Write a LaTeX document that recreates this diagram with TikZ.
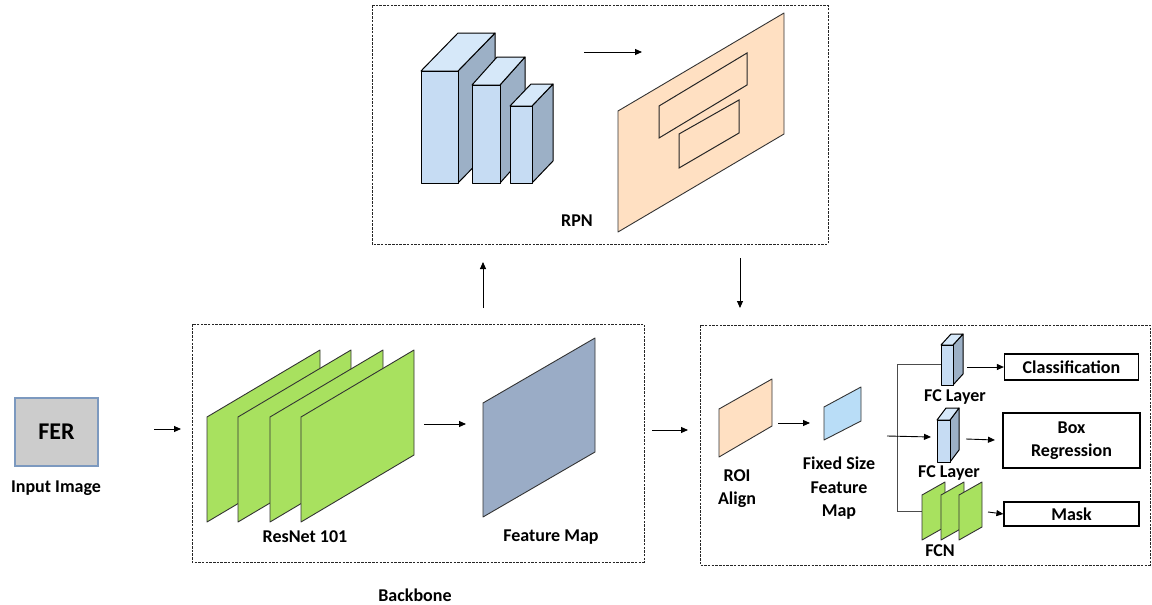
\documentclass[tikz,border=0pt]{standalone}
\usepackage{fontspec}
\setmainfont{Carlito}
\usetikzlibrary{arrows.meta}
\definecolor{cubefront}{HTML}{C6DCF3}
\definecolor{cubeside}{HTML}{9CB0C6}
\definecolor{cubetop}{HTML}{D6E8F9}
\definecolor{peach}{HTML}{FFE0C2}
\definecolor{leaf}{HTML}{A8E15F}
\definecolor{fmap}{HTML}{9AACC6}
\definecolor{fergray}{HTML}{CCCCCC}
\definecolor{ferborder}{HTML}{7C99BF}
\definecolor{skyblue}{HTML}{B9DDF7}
\tikzset{
  dbox/.style={draw=black!85, dash pattern=on 2.5pt off 1.2pt, line width=1pt},
  arr/.style={-{Triangle[length=7pt,width=6pt]}, line width=0.9pt},
  lbl/.style={font=\bfseries\fontsize{18}{23.5}\selectfont, align=center, inner sep=0pt},
  outbox/.style={draw, line width=1.2pt, fill=white, inner sep=0pt,
    font=\bfseries\fontsize{18}{23.5}\selectfont, align=center},
  shape line/.style={draw=black, line width=1pt, line join=round}
}
% cube: x1 x2 ytop ybot dx dy
\newcommand\mycube[6]{%
  \filldraw[fill=cubeside, shape line] (#2,#3) -- ({#2+(#5)},{#3+(#6)}) -- ({#2+(#5)},{#4+(#6)}) -- (#2,#4) -- cycle;
  \filldraw[fill=cubetop, shape line] (#1,#3) -- ({#1+(#5)},{#3+(#6)}) -- ({#2+(#5)},{#3+(#6)}) -- (#2,#3) -- cycle;
  \filldraw[fill=cubefront, shape line] (#1,#3) rectangle (#2,#4);
}
% parallelogram: xl xr yltop ylbot yrtop yrbot color
\newcommand\mypara[7]{%
  \filldraw[fill=#7, draw=black!80, line width=0.9pt, line join=round] (#1,#3) -- (#2,#5) -- (#2,#6) -- (#1,#4) -- cycle;
}
\begin{document}
\begin{tikzpicture}[x=1pt,y=-1pt]
\useasboundingbox (0,0) rectangle (1152,605);

% ---------- RPN box ----------
\draw[dbox] (372,5) rectangle (828,244);
\mycube{421}{458}{71}{183}{37}{-38}
\mycube{472}{500}{85}{183}{25}{-28}
\mycube{510}{532}{106}{183}{21}{-22}
\coordinate (rpnA) at (584,52);
\coordinate (rpnB) at (642,52);
\draw[arr] (rpnA) -- (rpnB);
\mypara{618}{784}{111}{232}{13}{134}{peach}
\draw[line width=1pt, draw=black!85] (659,106) -- (747,53) -- (747,85) -- (659,138) -- cycle;
\draw[line width=1pt, draw=black!85] (679,134) -- (739,100) -- (739,133) -- (679,168) -- cycle;
\node[lbl] (rpn) at (577,221) {RPN};

% ---------- Input ----------
\node[draw=ferborder, fill=fergray, line width=1.2pt, minimum width=83pt, minimum height=68pt, inner sep=0pt,
  font=\bfseries\fontsize{24}{28}\selectfont] (fer) at (56.5,432) {FER};
\node[lbl] (inlbl) at (56,488) {Input Image};

% ---------- Backbone ----------
\draw[dbox] (192,324) rectangle (644,562);
\foreach \x in {207,238,270,301}{
  \mypara{\x}{\x+113}{417}{522}{350}{455}{leaf}
}
\mypara{483}{595}{403}{517}{338}{452}{fmap}
\node[lbl] (resnet) at (305,537) {ResNet 101};
\node[lbl] (fmlbl) at (551,537) {Feature Map};
\node[lbl] (backbone) at (415,595) {Backbone};

\coordinate (inA) at (154,429);
\coordinate (inB) at (181,429);
\draw[arr] (inA) -- (inB);
\coordinate (rnA) at (424,424);
\coordinate (rnB) at (466,424);
\draw[arr] (rnA) -- (rnB);
\coordinate (bbA) at (652,430);
\coordinate (bbB) at (688,430);
\draw[arr] (bbA) -- (bbB);
\coordinate (upA) at (483,308);
\coordinate (upB) at (483,262);
\draw[arr] (upA) -- (upB);
\coordinate (dnA) at (740,258);
\coordinate (dnB) at (740,308);
\draw[arr] (dnA) -- (dnB);

% ---------- Head ----------
\draw[dbox] (700,325) rectangle (1150,565);
\mypara{719}{772}{409}{457}{379}{426}{peach}
\mypara{824}{861}{407}{440}{387}{421}{skyblue}
\node[lbl] (roi) at (737,488.5) {ROI\\Align};
\node[lbl] (fixed) at (839,488.5) {Fixed Size\\Feature\\Map};
\coordinate (roiA) at (778,423);
\coordinate (roiB) at (810,423);
\draw[arr] (roiA) -- (roiB);

% branch lines
\coordinate (brT) at (941,364);
\coordinate (brTL) at (897,364);
\coordinate (brBL) at (897,511);
\coordinate (brB) at (922,511);
\draw[line width=0.8pt, black!70] (brT) -- (brTL) -- (brBL) -- (brB);
\coordinate (midA) at (887,436);
\coordinate (midB) at (931,437);
\draw[arr] (midA) -- (midB);

\mycube{941}{953}{345}{385}{10}{-11}
\mycube{937}{950}{420}{462}{9}{-12}
\foreach \x in {922,941,959}{
  \mypara{\x}{\x+23}{495}{540}{482}{527}{leaf}
}
\node[lbl] (fc1) at (955,397) {FC Layer};
\node[lbl] (fc2) at (949,473) {FC Layer};
\node[lbl] (fcn) at (940,551) {FCN};

\node[outbox, minimum width=134pt, minimum height=26pt] (cls) at (1071.5,367) {Classification};
\node[outbox, minimum width=137pt, minimum height=55pt] (box) at (1071.5,440.5) {Box\\Regression};
\node[outbox, minimum width=135pt, minimum height=24pt] (mask) at (1071.5,514) {Mask};

\coordinate (c1) at (967,367);
\draw[arr] (c1) -- (cls.west);
\coordinate (c2) at (966,439);
\coordinate (c2b) at (995,440);
\draw[arr] (c2) -- (c2b);
\coordinate (c3) at (988,512);
\draw[arr] (c3) -- (mask.west);
\end{tikzpicture}
\end{document}
